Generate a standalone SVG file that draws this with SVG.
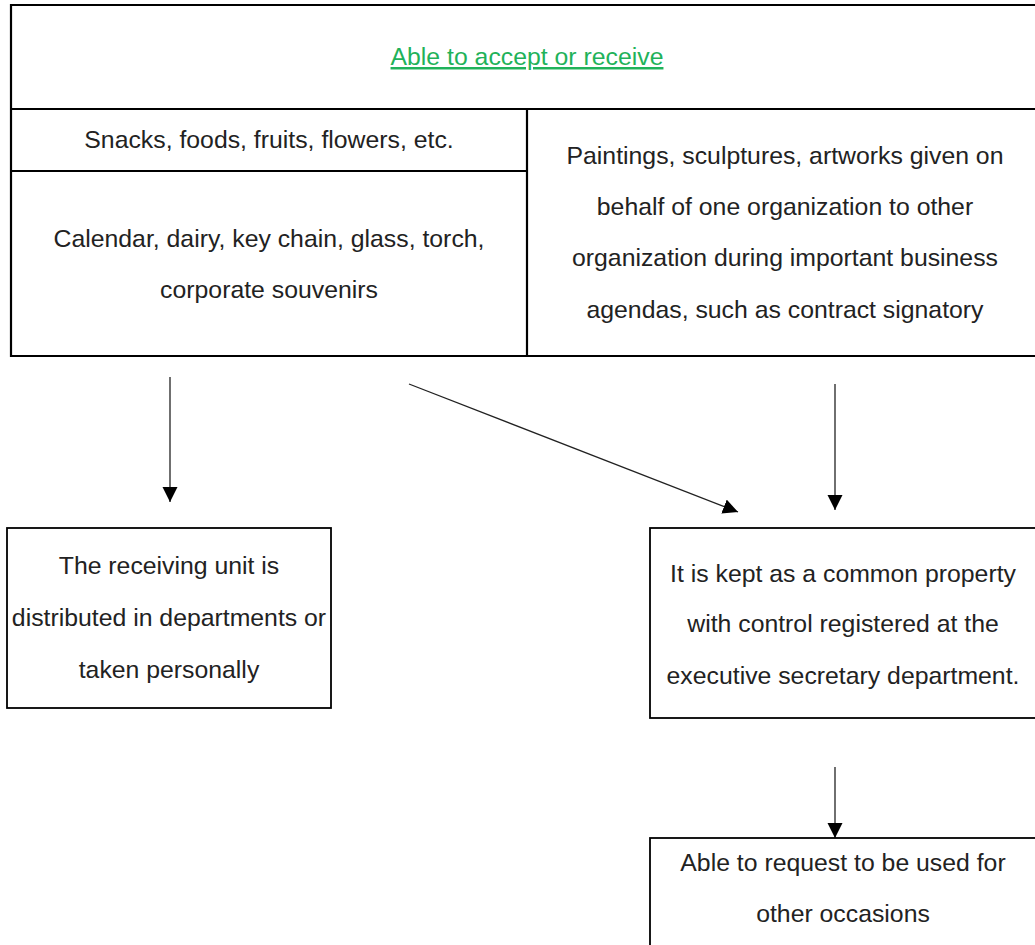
<svg xmlns="http://www.w3.org/2000/svg" width="1035" height="945" viewBox="0 0 1035 945">
  <style>
    .t { font-family: "Liberation Sans", Arial, sans-serif; font-size: 24.8px; fill: #222; text-anchor: middle; }
    .g { fill: #1fb25a; text-decoration: underline; }
    .frame { fill: none; stroke: #000; stroke-width: 2.2; }
    .box { fill: #fff; stroke: #000; stroke-width: 1.8; }
    .conn { fill: none; stroke: #222; stroke-width: 1.3; }
  </style>
  <defs>
    <marker id="ah" markerUnits="userSpaceOnUse" markerWidth="16" markerHeight="16" refX="15" refY="7.5" orient="auto">
      <path d="M0,0 L15,7.5 L0,15 z" fill="#000"/>
    </marker>
  </defs>
  <rect width="1035" height="945" fill="#fff"/>

  <g id="table">
    <g id="title">
      <path class="frame" d="M1040,5 H11 V356 H1040"/>
      <text class="t g" x="527" y="65">Able to accept or receive</text>
    </g>
    <path class="frame" d="M11,109 H1040 M527,109 V356 M11,171 H527"/>
    <g id="snacks">
      <text class="t" x="269" y="148">Snacks, foods, fruits, flowers, etc.</text>
    </g>
    <g id="calendar">
      <text class="t" x="269" y="247">Calendar, dairy, key chain, glass, torch,</text>
      <text class="t" x="269" y="298">corporate souvenirs</text>
    </g>
    <g id="paintings">
      <text class="t" x="785" y="164">Paintings, sculptures, artworks given on</text>
      <text class="t" x="785" y="215">behalf of one organization to other</text>
      <text class="t" x="785" y="266">organization during important business</text>
      <text class="t" x="785" y="318">agendas, such as contract signatory</text>
    </g>
  </g>

  <g id="connectors">
    <line class="conn" x1="170" y1="377" x2="170" y2="502" marker-end="url(#ah)"/>
    <line class="conn" x1="409" y1="384" x2="738" y2="512" marker-end="url(#ah)"/>
    <line class="conn" x1="835" y1="384" x2="835" y2="510" marker-end="url(#ah)"/>
    <line class="conn" x1="835" y1="767" x2="835" y2="838" marker-end="url(#ah)"/>
  </g>

  <g id="receiving">
    <rect class="box" x="7" y="528" width="324" height="180"/>
    <text class="t" x="169" y="574">The receiving unit is</text>
    <text class="t" x="169" y="626">distributed in departments or</text>
    <text class="t" x="169" y="678">taken personally</text>
  </g>

  <g id="kept">
    <rect class="box" x="650" y="528" width="400" height="190"/>
    <text class="t" x="843" y="582">It is kept as a common property</text>
    <text class="t" x="843" y="632">with control registered at the</text>
    <text class="t" x="843" y="684">executive secretary department.</text>
  </g>

  <g id="request">
    <rect class="box" x="650" y="838" width="400" height="120"/>
    <text class="t" x="843" y="871">Able to request to be used for</text>
    <text class="t" x="843" y="922">other occasions</text>
  </g>
</svg>
